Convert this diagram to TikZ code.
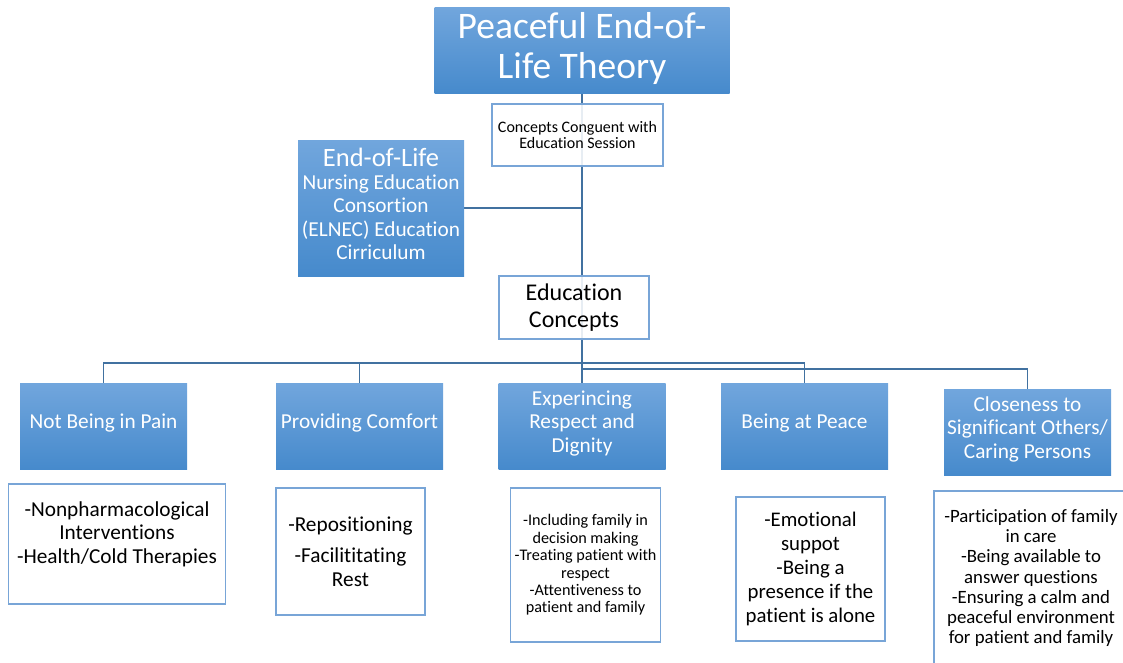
\documentclass[tikz,border=0pt]{standalone}
\usepackage{fontspec}
\setmainfont[Ligatures=NoCommon]{Carlito}
\usetikzlibrary{backgrounds}
\definecolor{btop}{RGB}{113,166,221}
\definecolor{bbot}{RGB}{70,138,204}
\definecolor{wline}{RGB}{120,165,215}
\definecolor{connc}{RGB}{65,113,160}
\newcommand\dropdn{\rule[-9pt]{0pt}{9pt}}
\tikzset{
  bluebox/.style={rectangle, top color=btop, bottom color=bbot, draw=none, text=white, align=center, inner sep=1pt},
  whitebox/.style={rectangle, draw=wline, line width=1.3pt, fill=white, fill opacity=0.88, text opacity=1, align=center, inner sep=1pt, text=black},
  link/.style={draw=connc, line width=1.4pt},
  lvl/.style={bluebox, minimum width=167, minimum height=86, font=\fontsize{21.3}{23.5}\selectfont},
}
\begin{document}
\begin{tikzpicture}[x=1pt,y=-1pt]
\useasboundingbox (0,0) rectangle (1123,662);
% top level
\node[bluebox, minimum width=295, minimum height=86, font=\fontsize{37.5}{40}\selectfont] (title) at (582,50) {Peaceful End-of-\\Life Theory\dropdn};
\node[whitebox, minimum width=171, minimum height=62, font=\fontsize{16}{16}\selectfont] (concepts) at (577.5,135) {Concepts Conguent with\\Education Session};
\node[bluebox, minimum width=166, minimum height=136, font=\fontsize{21.3}{23.3}\selectfont] (elnec) at (381,208) {{\fontsize{26.5}{26}\selectfont End-of-Life}\\Nursing Education\\Consortion\\(ELNEC) Education\\Cirriculum\dropdn};
\node[whitebox, minimum width=150, minimum height=63, font=\fontsize{24}{27}\selectfont] (edu) at (574,307.5) {Education\\Concepts};
% level nodes
\node[lvl] (pain) at (103.5,426) {Not Being in Pain\dropdn};
\node[lvl] (comfort) at (359.5,426) {Providing Comfort\dropdn};
\node[lvl] (exp) at (582,426) {Experincing\\Respect and\\Dignity\dropdn};
\node[lvl] (peace) at (804.5,426) {Being at Peace\dropdn};
\node[lvl] (close) at (1027.5,432) {Closeness to\\Significant Others/\\Caring Persons\dropdn};
% content boxes
\node[whitebox, minimum width=217, minimum height=120, font=\fontsize{21.3}{23.5}\selectfont] (c1) at (117,544) {-Nonpharmacological\\Interventions\\-Health/Cold Therapies\\\mbox{}};
\node[whitebox, minimum width=149, minimum height=127, font=\fontsize{21.3}{23.5}\selectfont] (c2) at (350.5,551.5) {-Repositioning\\[8pt]-Facilititating\\Rest};
\node[whitebox, minimum width=150, minimum height=154, font=\fontsize{16.2}{17.4}\selectfont] (c3) at (585.5,565) {-Including family in\\decision making\\-Treating patient with\\respect\\-Attentiveness to\\patient and family};
\node[whitebox, minimum width=149, minimum height=144, font=\fontsize{20.8}{24}\selectfont] (c4) at (810.5,569) {-Emotional\\suppot\\-Being a\\presence if the\\patient is alone};
\node[whitebox, minimum width=194, minimum height=174, font=\fontsize{18.8}{20.2}\selectfont] (c5) at (1031,578) {-Participation of family\\in care\\-Being available to\\answer questions\\-Ensuring a calm and\\peaceful environment\\for patient and family};
% connectors
\coordinate (b1) at (582,363);
\coordinate (b2) at (582,369);
\begin{scope}[on background layer]
\draw[link] (title.south) -- (exp.north);
\draw[link] (elnec.east) -- (elnec.east -| title.south);
\draw[link] (pain.north) |- (b1) -| (peace.north);
\draw[link] (comfort.north) -- (comfort.north |- b1);
\draw[link] (b2) -| (close.north);
\end{scope}
\end{tikzpicture}
\end{document}
